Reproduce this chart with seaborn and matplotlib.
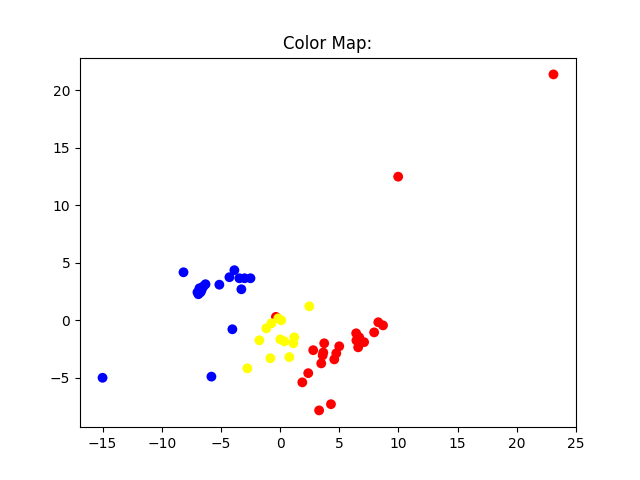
import matplotlib
matplotlib.use("Agg")
import matplotlib.pyplot as plt
import seaborn as sns
import pandas as pd

# Points per group
red_x = [-0.35, 3.73, 2.8, 3.65, 3.6, 3.48, 5.0, 4.75, 4.58, 6.43, 6.69, 6.6, 7.1, 6.45,
         8.3, 8.7, 7.95, 2.38, 1.88, 3.3, 4.3, 9.98, 23.1]
red_y = [0.3, -2.0, -2.6, -2.8, -3.05, -3.75, -2.26, -2.87, -3.4, -1.13, -1.48, -2.35, -1.9, -1.75,
         -0.17, -0.44, -1.05, -4.6, -5.4, -7.84, -7.3, 12.5, 21.4]

blue_x = [-8.16, -6.98, -6.81, -6.64, -6.47, -6.3, -6.9, -6.72, -6.55, -5.13, -3.86, -4.28,
          -3.44, -3.0, -2.5, -3.27, -4.03, -15.0, -5.8]
blue_y = [4.18, 2.44, 2.79, 2.61, 2.96, 3.14, 2.27, 2.44, 2.87, 3.1, 4.36, 3.75,
          3.66, 3.66, 3.66, 2.7, -0.78, -5.0, -4.9]

yellow_x = [2.47, -0.15, 0.1, -0.73, -1.16, -1.75, 0.02, 0.36, 1.2, 1.12, -0.82, 0.78, -2.76]
yellow_y = [1.22, 0.17, 0.0, -0.26, -0.7, -1.74, -1.66, -1.83, -1.48, -2.0, -3.3, -3.2, -4.18]

colors = {"red": "red", "blue": "blue", "yellow": "yellow"}

df = pd.DataFrame({
    "x": red_x + blue_x + yellow_x,
    "y": red_y + blue_y + yellow_y,
    "group": ["red"] * len(red_x) + ["blue"] * len(blue_x) + ["yellow"] * len(yellow_x),
})

fig, ax = plt.subplots(figsize=(6.4, 4.8), dpi=100)
sns.scatterplot(data=df, x="x", y="y", hue="group", palette=colors,
                s=50, linewidth=0, legend=False, ax=ax)
ax.set_xlabel("")
ax.set_ylabel("")
ax.set_title("Color Map:")
plt.savefig("out.png")
